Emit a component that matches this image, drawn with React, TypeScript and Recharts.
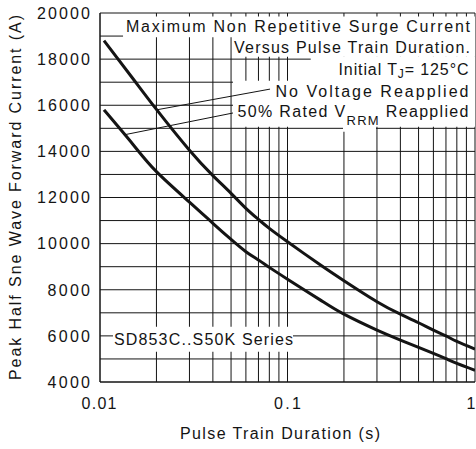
import React from 'react';
import {
  LineChart,
  Line,
  XAxis,
  YAxis,
  CartesianGrid,
  ReferenceArea,
  ReferenceLine
} from 'recharts';

// pulse train duration (s)
const durations = [0.0105, 0.015, 0.02, 0.03, 0.04, 0.05, 0.06, 0.07, 0.08, 0.1, 0.15, 0.2, 0.3, 0.4, 0.5, 0.6, 0.7, 0.8, 1];
// peak current (A), no voltage reapplied
const noVoltage = [18800, 17150, 15820, 14050, 12950, 12180, 11530, 11050, 10660, 10080, 9070, 8390, 7480, 6940, 6570, 6250, 6000, 5760, 5430];
// peak current (A), 50% rated VRRM reapplied
const ratedVrrm = [15800, 14300, 13120, 11800, 10880, 10180, 9650, 9290, 8970, 8460, 7550, 6940, 6250, 5820, 5500, 5240, 5010, 4810, 4510];

const xTicks = [
  0.01, 0.02, 0.03, 0.04, 0.05, 0.06, 0.07, 0.08, 0.09,
  0.1, 0.2, 0.3, 0.4, 0.5, 0.6, 0.7, 0.8, 0.9, 1
];
const xLabels = ['0.01', '0.1', '1'];
const yTicks = [4000, 5000, 6000, 7000, 8000, 9000, 10000, 11000, 12000, 13000, 14000, 15000, 16000, 17000, 18000, 19000, 20000];
const yLabels = [4000, 6000, 8000, 10000, 12000, 14000, 16000, 18000, 20000];

const FONT = '"Liberation Sans", Arial, Helvetica, sans-serif';
const INK = '#141414';

const data = durations.map((t, i) => ({ t, upper: noVoltage[i], lower: ratedVrrm[i] }));

// white patches behind the annotation text (data units)
const masks = [
  { x1: 0.01327, x2: 1, y1: 18950, y2: 19850 },
  { x1: 0.0513, x2: 1, y1: 18100, y2: 18980 },
  { x1: 0.103, x2: 1, y1: 17000, y2: 17960 },
  { x1: 0.133, x2: 1, y1: 17900, y2: 18110 },
  { x1: 0.0512, x2: 1, y1: 15070, y2: 17060 },
  { x1: 0.1977, x2: 0.2965, y1: 14850, y2: 15100 },
  { x1: 0.01173, x2: 0.107, y1: 5308, y2: 6393 }
];

const YTick = (props: any) => {
  const { y, payload } = props;
  if (!yLabels.includes(payload.value)) return <g />;
  const s = String(payload.value);
  return (
    <text x={90} y={y + 5.8} textAnchor="end" fontSize={16} fontFamily={FONT} fill={INK}
      textLength={s.length * 10.6} lengthAdjust="spacing">
      {s}
    </text>
  );
};

const XTick = (props: any) => {
  const { x, payload } = props;
  const s = String(payload.value);
  if (!xLabels.includes(s)) return <g />;
  const len = s === '0.01' ? 35 : s === '0.1' ? 27 : undefined;
  const px = s === '0.01' ? x - 1 : s === '1' ? x - 4 : x;
  return (
    <text x={px} y={409} textAnchor="middle" fontSize={16} fontFamily={FONT} fill={INK}
      textLength={len} lengthAdjust="spacing">
      {s}
    </text>
  );
};

const txt = { fontSize: 16, fontFamily: FONT, fill: INK } as const;

const Notes = () => (
  <svg width={476} height={449} style={{ position: 'absolute', left: 0, top: 0, pointerEvents: 'none' }}>
    <text {...txt} x={470} y={32} textAnchor="end" textLength={344}>Maximum Non Repetitive Surge Current</text>
    <text {...txt} x={470} y={53} textAnchor="end" textLength={236}>Versus Pulse Train Duration.</text>
    <text {...txt} x={468.5} y={75} textAnchor="end" textLength={130}>
      Initial T<tspan fontSize={12} dy={3}>J</tspan><tspan dy={-3}>= 125°C</tspan>
    </text>
    <text {...txt} x={468.5} y={97} textAnchor="end" textLength={193}>No Voltage Reapplied</text>
    <text {...txt} x={468.5} y={117} textAnchor="end" textLength={231}>
      50% Rated V<tspan fontSize={13} dy={8}>RRM</tspan><tspan dy={-8}> Reapplied</tspan>
    </text>
    <text {...txt} x={114} y={345} textLength={179}>SD853C..S50K Series</text>
    <text {...txt} x={280} y={439} textAnchor="middle" textLength={200}>Pulse Train Duration (s)</text>
    <text {...txt} x={0} y={0} textAnchor="middle" textLength={365}
      transform="translate(20.5 197.5) rotate(-90)">
      Peak Half Sne Wave Forward Current (A)
    </text>
  </svg>
);

const App: React.FC = () => {
  return (
    <div style={{ position: 'absolute', left: 0, top: 0, width: 476, height: 449, background: '#fff' }}>
      <LineChart width={476} height={449} data={data} margin={{ top: 13, right: 1, bottom: 0, left: 0 }}>
        <CartesianGrid stroke={INK} strokeWidth={1} />
        <XAxis
          dataKey="t"
          type="number"
          scale="log"
          domain={[0.01, 1]}
          ticks={xTicks}
          interval={0}
          allowDataOverflow
          tickLine={false}
          axisLine={{ stroke: INK }}
          tick={<XTick />}
          height={67}
        />
        <YAxis
          type="number"
          domain={[4000, 20000]}
          ticks={yTicks}
          interval={0}
          allowDataOverflow
          tickLine={false}
          axisLine={{ stroke: INK }}
          tick={<YTick />}
          width={100}
        />
        {masks.map((m, i) => (
          <ReferenceArea key={i} x1={m.x1} x2={m.x2} y1={m.y1} y2={m.y2}
            fill="#fff" fillOpacity={1} stroke="none" ifOverflow="visible" />
        ))}
        <ReferenceLine segment={[{ x: 0.02, y: 15800 }, { x: 0.0807, y: 16700 }]} stroke={INK} strokeWidth={1} ifOverflow="visible" />
        <ReferenceLine segment={[{ x: 0.0137, y: 14730 }, { x: 0.0512, y: 15664 }]} stroke={INK} strokeWidth={1} ifOverflow="visible" />
        <Line type="natural" dataKey="upper" stroke={INK} strokeWidth={3} dot={false} isAnimationActive={false} />
        <Line type="natural" dataKey="lower" stroke={INK} strokeWidth={3} dot={false} isAnimationActive={false} />
      </LineChart>
      <Notes />
    </div>
  );
};

export default App;
